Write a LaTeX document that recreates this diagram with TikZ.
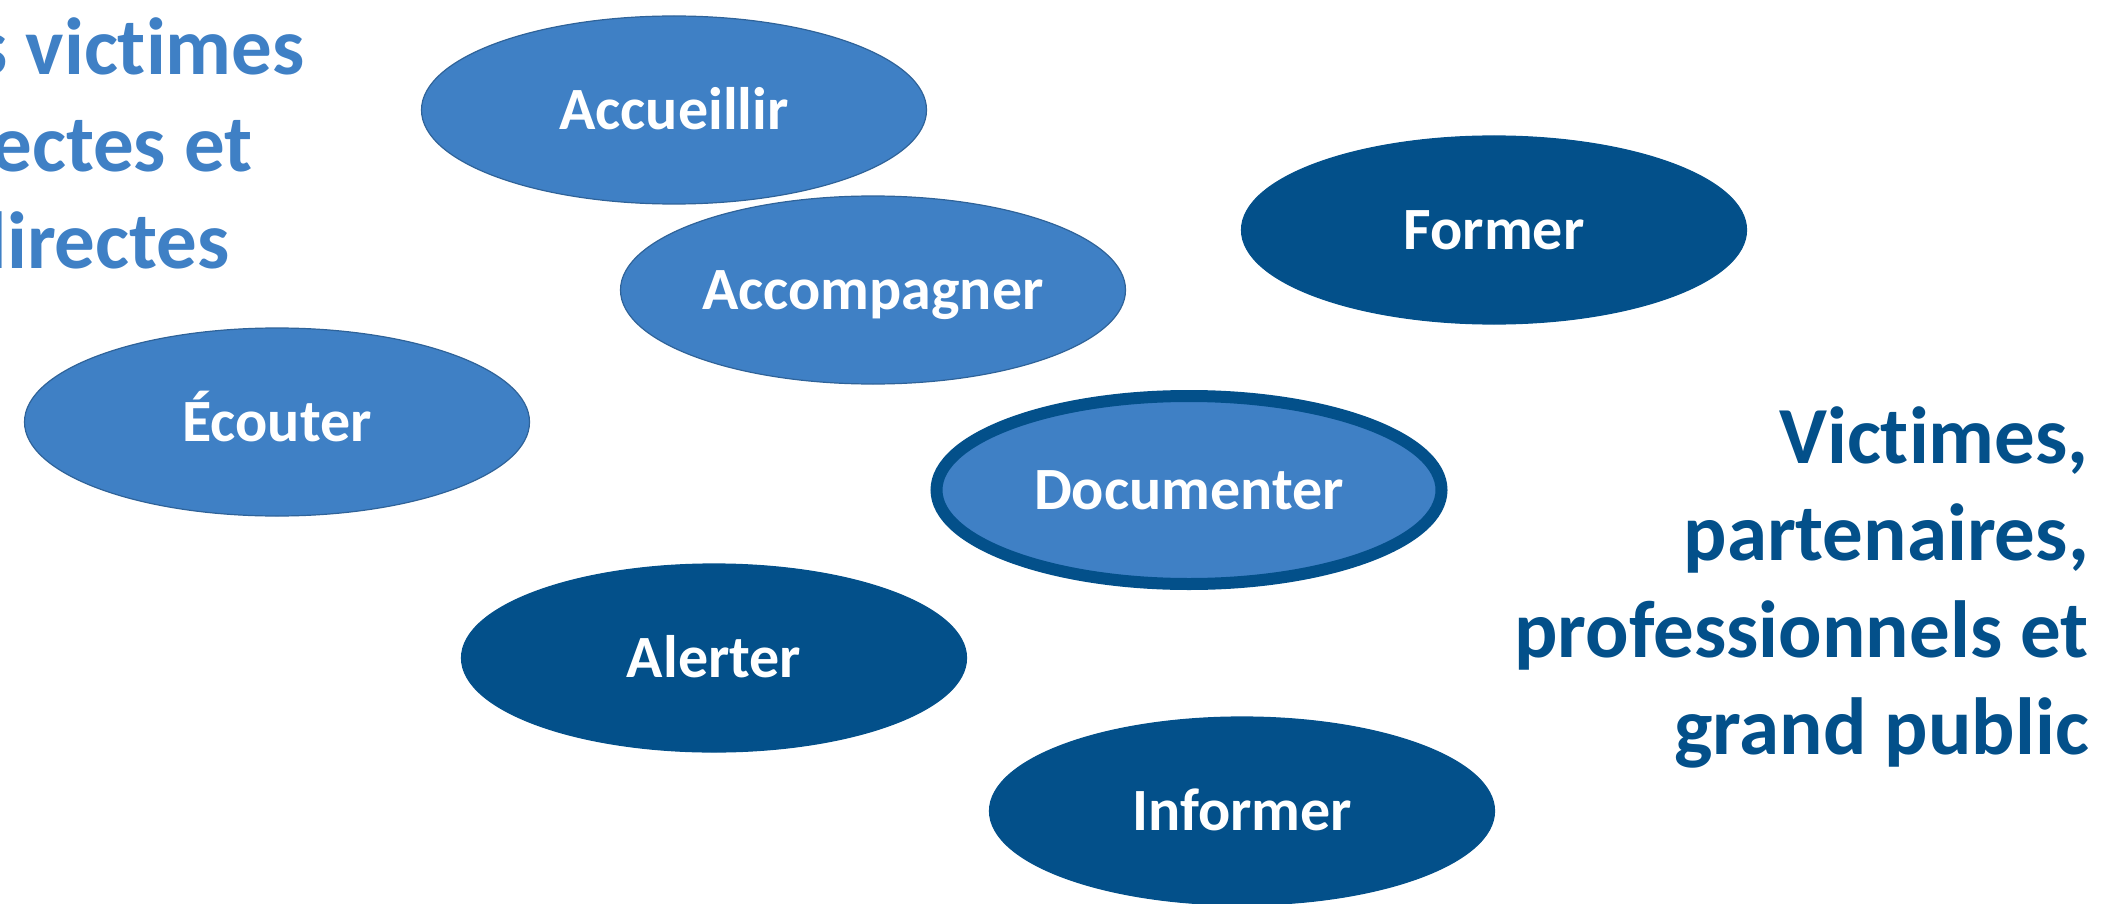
\documentclass[tikz,border=0pt]{standalone}
\usepackage{fontspec}
\setmainfont{Carlito}[Ligatures=NoCommon]
\usepackage{tikz}
\usetikzlibrary{shapes.geometric,positioning}
\definecolor{lightblue}{HTML}{3F80C5}
\definecolor{darkblue}{HTML}{03508A}
\definecolor{rimblue}{HTML}{2F6399}

\begin{document}
\begin{tikzpicture}[x=1pt,y=-1pt]
% STYLES
\tikzset{
    ellips/.style={ellipse, draw=rimblue, line width=1.2pt, fill=lightblue,
    minimum width=505pt, minimum height=188pt, inner sep=0pt, text=white,
    font=\fontsize{60}{72}\selectfont\bfseries, text height=39pt, text depth=0pt},
    darkellips/.style={ellips, draw=darkblue, fill=darkblue},
    group/.style={inner sep=0pt, font=\fontsize{81}{97}\selectfont\bfseries}
}
\path[use as bounding box, clip] (0,0) rectangle (2106,904);

% the two groups of people
\node [group, text=lightblue, align=left, anchor=north west] (Direct) at (-100,17)
   {Les victimes\\directes et\\indirectes};
\node [group, text=darkblue, align=right, anchor=north east] (Public) at (2089,406)
   {Victimes,\\partenaires,\\professionnels et\\grand public};

% the missions
\node [ellips] (Accueillir) at (674,110) {Accueillir};
\node [ellips] (Accompagner) at (873,290) {Accompagner};
\node [ellips] (Ecouter) at (277,422) {Écouter};
\node [darkellips] (Former) at (1494,230) {Former};
\node [ellips, draw=darkblue, line width=12pt] (Documenter) at (1189,490) {Documenter};
\node [darkellips] (Alerter) at (714,658) {Alerter};
\node [darkellips] (Informer) at (1242,811) {Informer};
\end{tikzpicture}
\end{document}
